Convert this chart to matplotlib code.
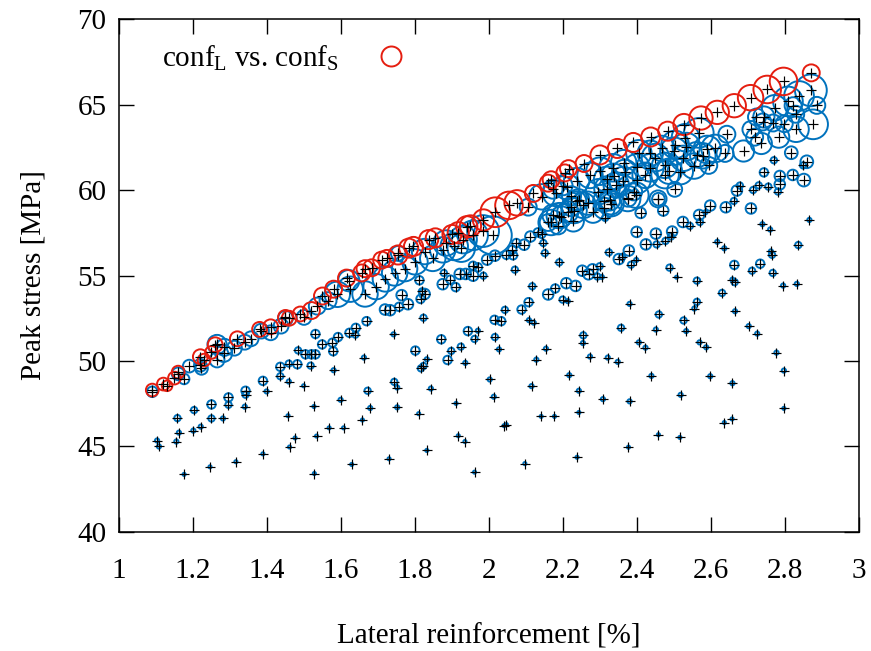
import numpy as np
import matplotlib
matplotlib.use("Agg")
import matplotlib.pyplot as plt
from matplotlib.lines import Line2D

plt.rcParams['font.family'] = ['Liberation Serif', 'DejaVu Serif']
plt.rcParams['mathtext.fontset'] = 'custom'
plt.rcParams['mathtext.rm'] = 'Liberation Serif'
plt.rcParams['mathtext.it'] = 'Liberation Serif:italic'

# conf_L > conf_S (red circles), size = difference
red_x = [1.09, 1.12, 1.13, 1.15, 1.16, 1.22, 1.23, 1.25, 1.26, 1.32, 1.38, 1.41, 1.45, 1.46, 1.49,
         1.52, 1.55, 1.58, 1.615, 1.656, 1.665, 1.683, 1.71, 1.724, 1.754, 1.783, 1.796, 1.837, 1.855, 1.90,
         1.917, 1.94, 1.95, 1.985, 2.017, 2.054, 2.076, 2.12, 2.16, 2.168, 2.205, 2.215, 2.257, 2.30, 2.347,
         2.39, 2.437, 2.483, 2.527, 2.573, 2.617, 2.663, 2.707, 2.752, 2.796, 2.871]
red_y = [48.3, 48.65, 48.55, 49.0, 49.35, 50.25, 50.05, 50.5, 50.95, 51.3, 51.85, 52.0, 52.55, 52.5, 52.75,
         52.95, 53.8, 54.2, 54.85, 55.15, 55.4, 55.45, 55.9, 56.0, 56.2, 56.6, 56.7, 57.1, 57.2, 57.4,
         57.5, 57.85, 57.9, 58.25, 58.7, 59.1, 59.25, 59.8, 60.4, 60.6, 61.0, 61.25, 61.55, 62.05, 62.43,
         62.78, 63.1, 63.44, 63.83, 64.21, 64.54, 64.93, 65.4, 65.88, 66.35, 66.85]
red_d = [6, 6, 5, 6, 6, 7, 6, 6, 7, 7, 7, 7, 7, 7, 7,
         8, 8, 8, 8, 8, 8, 8, 8, 8, 9, 9, 9, 9, 9, 9,
         10, 10, 10, 10, 14, 13, 12, 8, 8, 8, 8, 8, 8, 9, 9,
         9, 9, 9, 10, 11, 11, 11, 12, 13, 13, 8]

# conf_S side, upper band (big circles)
band_x = [1.09, 1.16, 1.176, 1.19, 1.22, 1.223, 1.265, 1.265, 1.285, 1.283, 1.312, 1.34, 1.357, 1.385, 1.41,
          1.438, 1.45, 1.50, 1.536, 1.565, 1.59, 1.621, 1.625, 1.665, 1.695, 1.72, 1.745, 1.755, 1.772, 1.80,
          1.826, 1.848, 1.875, 1.884, 1.906, 1.925, 1.93, 1.957, 1.984, 2.01, 2.106, 2.143, 2.173, 2.18, 2.20,
          2.21, 2.223, 2.237, 2.237, 2.273, 2.30, 2.335, 2.363, 2.40, 2.435, 2.45, 2.476, 2.397, 2.296, 2.255,
          2.23, 2.19, 2.173, 2.168, 2.16, 2.187, 2.33, 2.375, 2.242, 2.222, 2.213, 2.195, 2.228, 2.267, 2.281,
          2.311, 2.326, 2.344, 2.319,
          2.870, 2.838, 2.808, 2.822, 2.829, 2.886, 2.876, 2.830, 2.783, 2.798, 2.768, 2.772, 2.743, 2.740, 2.723,
          2.736, 2.688, 2.708, 2.718, 2.643, 2.638, 2.594, 2.611, 2.590, 2.567, 2.531, 2.533, 2.503, 2.500, 2.561,
          2.578, 2.554, 2.525, 2.517, 2.487, 2.475, 2.467, 2.436, 2.422, 2.405, 2.399, 2.367, 2.364, 2.337, 2.318,
          2.310, 2.330, 2.391, 2.376, 2.457, 2.502]
band_y = [48.2, 49.25, 48.95, 49.7, 49.75, 49.57, 50.06, 50.97, 50.8, 50.44, 50.75, 51.1, 51.3, 51.75, 51.65,
          52.04, 52.5, 52.55, 53.21, 53.53, 53.9, 54.7, 54.2, 53.92, 54.35, 54.8, 55.15, 56.3, 55.4, 55.8,
          56.4, 56.0, 56.5, 56.9, 56.7, 56.6, 57.1, 57.35, 57.6, 57.35, 59.0, 59.6, 60.05, 59.8, 60.25,
          60.2, 59.66, 59.37, 60.55, 60.85, 61.1, 61.3, 60.55, 60.6, 61.3, 61.9, 60.9, 59.7, 59.9, 59.1,
          58.8, 58.5, 58.54, 58.1, 58.1, 57.9, 59.2, 59.5, 59.43, 59.03, 58.72, 58.43, 58.19, 59.23, 58.7,
          58.93, 59.42, 60.29, 60.06,
          65.83, 65.5, 65.18, 64.93, 64.43, 64.95, 63.84, 63.55, 63.09, 63.88, 63.92, 64.81, 64.27, 63.98, 64.27,
          62.72, 62.28, 63.54, 63.09, 63.26, 62.14, 61.44, 62.43, 62.37, 63.34, 63.06, 62.54, 62.66, 62.27, 62.06,
          62.0, 61.4, 61.85, 61.07, 61.1, 61.44, 62.43, 62.15, 60.86, 62.18, 61.36, 61.03, 61.6, 60.8, 60.62,
          59.36, 59.19, 59.89, 59.52, 59.48, 60.04]
band_d = [5, 6, 5, 6, 6, 6, 7, 9, 8, 8, 7, 7, 7, 7, 7,
          7, 7, 7, 8, 8, 12, 10, 12, 12, 12, 12, 12, 7, 12, 12,
          12, 12, 12, 12, 13, 13, 13, 14, 15, 18, 8, 12, 9, 12, 9,
          12, 9, 9, 12, 12, 13, 13, 13, 13, 13, 13, 13, 12, 12, 12,
          12, 12, 10, 12, 8, 8, 12, 12, 10, 9, 10, 10, 10, 11, 10,
          10, 10, 12, 12,
          15, 14, 14, 8, 8, 8, 14, 12, 10, 8, 8, 12, 10, 8, 8,
          10, 10, 8, 8, 8, 8, 8, 13, 13, 14, 13, 13, 13, 13, 12,
          12, 12, 12, 12, 12, 12, 12, 12, 12, 12, 12, 12, 12, 12, 12,
          10, 10, 8, 8, 8, 7]

# conf_S side, lower scatter (small circles)
low_x = [1.103, 1.108, 1.158, 1.155, 1.162, 1.176, 1.203, 1.201, 1.221, 1.246, 1.25, 1.25, 1.281, 1.296, 1.296,
         1.316, 1.34, 1.342, 1.342, 1.389, 1.389, 1.399, 1.436, 1.436, 1.459, 1.459, 1.457, 1.461, 1.476, 1.484,
         1.482, 1.499, 1.504, 1.52, 1.531, 1.518, 1.531, 1.527, 1.528, 1.534, 1.549, 1.568, 1.577, 1.579, 1.58,
         1.592, 1.599, 1.607, 1.623, 1.64, 1.639, 1.629, 1.662, 1.672, 1.658, 1.669,
         1.679, 1.73, 1.742, 1.744, 1.752, 1.752, 1.719, 1.733, 1.757, 1.764, 1.781, 1.812, 1.815, 1.826, 1.819,
         1.823, 1.801, 1.832, 1.823, 1.816, 1.81, 1.832, 1.843, 1.871, 1.878, 1.875, 1.888, 1.896, 1.898, 1.91,
         1.911, 1.917, 1.921, 1.924, 1.935, 1.936, 1.937, 1.943, 1.957, 1.957, 1.961, 1.961, 1.97, 1.97, 1.985,
         1.995, 2.002, 2.013, 2.015, 2.016, 2.016, 2.027, 2.033, 2.041, 2.043, 2.047, 2.047, 2.063, 2.065, 2.07,
         2.074, 2.088, 2.095, 2.097, 2.107, 2.108, 2.112, 2.115, 2.117, 2.121, 2.128, 2.132, 2.141, 2.142, 2.147,
         2.151, 2.154, 2.16, 2.177, 2.179, 2.19, 2.199, 2.209, 2.213, 2.217, 2.234, 2.238, 2.243, 2.243, 2.252,
         2.254, 2.255, 2.269, 2.273, 2.28, 2.293, 2.299, 2.305,
         2.308, 2.314, 2.321, 2.324, 2.348, 2.351, 2.357, 2.36, 2.377, 2.378, 2.38, 2.38, 2.384, 2.398, 2.399,
         2.405, 2.41, 2.423, 2.424, 2.439, 2.451, 2.451, 2.453, 2.458, 2.459, 2.471, 2.477, 2.488, 2.492, 2.495,
         2.507, 2.516, 2.518, 2.524, 2.526, 2.533, 2.543, 2.555, 2.562, 2.562, 2.568, 2.569, 2.57, 2.585, 2.587,
         2.598, 2.598, 2.617, 2.63, 2.636, 2.636, 2.64, 2.657, 2.658, 2.658, 2.662, 2.663, 2.664, 2.665, 2.67,
         2.678, 2.702, 2.708, 2.711, 2.714, 2.725, 2.729, 2.733, 2.739, 2.743, 2.755, 2.76, 2.762, 2.765, 2.767,
         2.77, 2.777, 2.781, 2.786, 2.786, 2.795, 2.797, 2.797, 2.817, 2.821, 2.832, 2.836, 2.849, 2.851, 2.859,
         2.866, 2.458]
low_y = [45.35, 45.0, 46.66, 45.29, 45.81, 43.37, 47.13, 45.93, 46.16, 43.81, 47.46, 46.64, 46.64, 47.87, 47.44,
         44.11, 47.33, 48.26, 48.03, 44.57, 48.84, 48.22, 49.66, 49.11, 49.85, 48.8, 46.8, 44.97, 45.5, 50.62,
         49.81, 48.55, 50.39, 50.39, 50.39, 49.73, 51.58, 47.34, 43.42, 45.61, 50.97, 46.09, 51.07, 50.57, 49.46,
         51.4, 47.73, 46.09, 51.65, 51.94, 51.54, 43.95, 50.2, 48.26, 46.55, 52.33,
         47.25, 44.28, 51.56, 48.78, 48.45, 47.29, 53.01, 52.97, 53.17, 53.85, 53.32, 54.72, 53.63, 53.92, 54.07,
         52.53, 50.61, 50.1, 49.71, 49.57, 46.92, 44.77, 48.39, 51.27, 55.15, 54.49, 50.06, 54.76, 50.59, 54.32,
         47.52, 45.63, 55.09, 50.84, 45.29, 49.89, 55.09, 51.75, 54.99, 55.57, 51.29, 43.5, 55.48, 51.77, 54.99,
         55.93, 48.92, 47.91, 52.41, 56.16, 51.4, 50.68, 52.33, 46.22, 52.99, 46.28, 56.21, 56.51, 56.18, 55.34,
         56.9, 53.01, 56.8, 44.0, 53.44, 52.39, 57.28, 48.53, 54.37, 52.24, 50.08, 57.52, 46.76, 57.44, 56.9,
         56.31, 50.72, 53.89, 46.76, 54.24, 55.77, 53.59, 54.55, 53.5, 49.17, 54.39, 44.37, 48.26, 46.99, 55.28,
         51.05, 51.5, 55.07, 50.26, 55.36, 54.94, 55.54, 54.91,
         47.77, 58.37, 50.2, 56.35, 49.95, 55.96, 51.94, 56.08, 44.96, 56.46, 47.64, 53.34, 55.63, 55.91, 57.55,
         51.09, 58.66, 50.78, 56.82, 49.13, 57.45, 51.84, 56.82, 45.69, 52.72, 58.8, 57.02, 55.46, 57.28, 57.57,
         54.9, 45.53, 48.02, 58.13, 52.37, 51.75, 57.9, 53.07, 53.46, 54.7, 58.54, 51.09, 58.13, 58.7, 50.8,
         59.09, 49.11, 56.97, 53.98, 46.4, 56.59, 58.99, 46.61, 48.7, 54.76, 59.36, 55.62, 54.61, 52.91, 59.97,
         60.26, 52.04, 58.92, 55.28, 60.0, 51.6, 60.27, 55.69, 58.0, 61.03, 60.2, 57.69, 56.41, 56.21, 55.15,
         61.74, 50.49, 59.91, 60.82, 60.33, 54.41, 49.44, 47.23, 62.18, 60.88, 54.51, 56.78, 61.44, 60.58, 61.65,
         58.25, 59.46]
low_d = [2, 2, 3, 2, 2, 1.5, 3, 2, 2, 1.5, 4, 3, 2, 4, 3,
         1.5, 2, 4, 3, 1.5, 4, 2, 4, 3, 3, 2, 1.5, 1.5, 1.5, 3,
         4, 1.5, 4, 4, 4, 3, 4, 1.5, 1.5, 1.5, 4, 1.5, 4, 4, 2,
         4, 2, 1.5, 4, 4, 3, 1.5, 2, 3, 1.5, 4,
         2, 1.5, 2, 3, 2, 2, 5, 5, 4, 5, 5, 4, 4, 5, 3,
         3, 4, 2, 3, 3, 1.5, 1.5, 2, 4, 3, 5, 4, 4, 3, 4,
         1.5, 1.5, 5, 3, 1.5, 2, 5, 4, 5, 4, 3, 1.5, 4, 2, 3,
         5, 2, 2, 4, 5, 3, 2, 4, 1.5, 3, 1.5, 4, 4, 4, 3,
         4, 4, 5, 1.5, 4, 2, 5, 2, 3, 2, 2, 4, 1.5, 4, 3,
         3, 2, 5, 1.5, 4, 3, 3, 5, 2, 2, 5, 1.5, 2, 1.5, 5,
         2, 3, 5, 2, 5, 3, 3, 2,
         2, 3, 2, 3, 2, 5, 3, 3, 1.5, 5, 2, 2, 3, 2, 5,
         2, 5, 2, 5, 2, 5, 2, 3, 1.5, 3, 5, 3, 3, 3, 5,
         1.5, 1.5, 2, 5, 3, 2, 3, 2, 3, 3, 5, 2, 3, 2, 2,
         5, 2, 2, 3, 1.5, 2, 5, 1.5, 2, 2, 3, 4, 3, 2, 5,
         3, 2, 5, 3, 3, 2, 3, 4, 2, 4, 3, 2, 2, 3, 3,
         3, 2, 3, 5, 5, 2, 2, 1.5, 6, 5, 2, 3, 3, 6, 6,
         2, 6]

red = '#e51e10'
blue = '#0072bd'
LW = 1.4  # circle edge width in pt

def msize(d):
    # circle radius (px at 100 dpi) -> scatter area in pt^2
    dia = 2 * 1.06 * np.asarray(d, dtype=float) * 0.72
    return dia ** 2

fig = plt.figure(figsize=(8.71, 6.51), dpi=100)
ax = fig.add_axes([0.1366, 0.1828, 0.8496, 0.788])

blue_x = band_x + low_x
blue_y = band_y + low_y
blue_d = band_d + low_d
ax.scatter(blue_x, blue_y, s=msize(blue_d), facecolors='none', edgecolors=blue, linewidths=LW, zorder=2)
ax.scatter(red_x, red_y, s=msize(red_d), facecolors='none', edgecolors=red, linewidths=LW, zorder=3)
ax.plot(red_x + blue_x, red_y + blue_y, ls='none', marker='+', color='black', ms=6.5, mew=0.85, zorder=4)

ax.set_xlim(1, 3)
ax.set_ylim(40, 70)
ax.set_xticks(np.arange(1, 3.01, 0.2))
ax.set_xticklabels(['1', '1.2', '1.4', '1.6', '1.8', '2', '2.2', '2.4', '2.6', '2.8', '3'])
ax.set_yticks(np.arange(40, 71, 5))
ax.tick_params(direction='in', length=11, width=1, labelsize=21, top=True, right=True)
ax.tick_params(axis='x', pad=19)
ax.tick_params(axis='y', pad=9)
for sp in ax.spines.values():
    sp.set_linewidth(1.1)

ax.set_xlabel('Lateral reinforcement [%]', fontsize=21, labelpad=28)
ax.set_ylabel('Peak stress [MPa]', fontsize=21, labelpad=22)

h = Line2D([], [], ls='none', marker='o', mfc='none', mec=red, mew=LW, ms=14.4)
ax.legend([h], [r'conf$_{\mathrm{L}}$ vs. conf$_{\mathrm{S}}$'], loc='upper left',
          bbox_to_anchor=(0.058, 0.952), markerfirst=False, frameon=False, fontsize=21,
          handlelength=1.0, handletextpad=1.3, borderpad=0, borderaxespad=0)

fig.savefig('out.png', dpi=100)
